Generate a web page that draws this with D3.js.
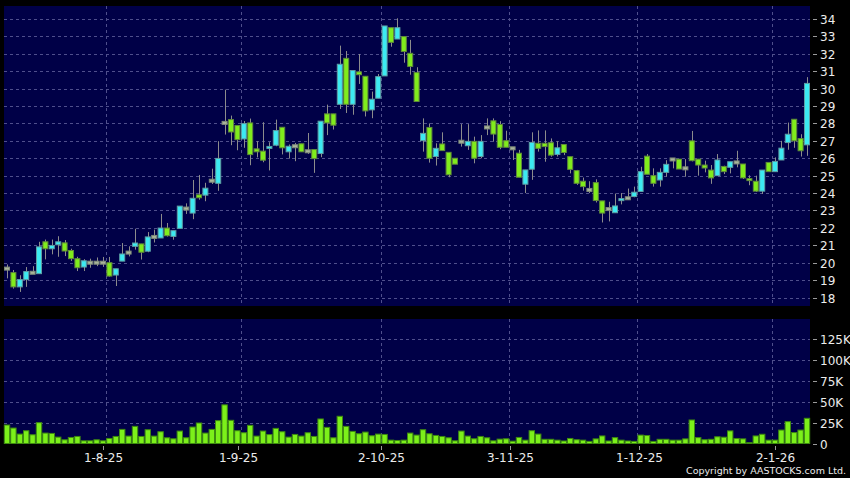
<!DOCTYPE html>
<html><head><meta charset="utf-8">
<script src="https://cdn.jsdelivr.net/npm/d3@7"></script>
<style>html,body{margin:0;padding:0;background:#000;}svg{display:block}</style>
</head><body><svg id="c" width="850" height="478"></svg>
<script>
// ---------------- DATA ----------------
const dates = [
"2025-07-10","2025-07-11","2025-07-14","2025-07-15","2025-07-16","2025-07-17","2025-07-18","2025-07-21","2025-07-22","2025-07-23","2025-07-24","2025-07-25","2025-07-28","2025-07-29","2025-07-30","2025-07-31",
"2025-08-01","2025-08-04","2025-08-05","2025-08-06","2025-08-07","2025-08-08","2025-08-11","2025-08-12","2025-08-13","2025-08-14","2025-08-15","2025-08-18","2025-08-19","2025-08-20","2025-08-21","2025-08-22","2025-08-25","2025-08-26","2025-08-27","2025-08-28","2025-08-29",
"2025-09-01","2025-09-02","2025-09-03","2025-09-04","2025-09-05","2025-09-08","2025-09-09","2025-09-10","2025-09-11","2025-09-12","2025-09-15","2025-09-16","2025-09-17","2025-09-18","2025-09-19","2025-09-22","2025-09-23","2025-09-24","2025-09-25","2025-09-26","2025-09-29","2025-09-30",
"2025-10-02","2025-10-03","2025-10-06","2025-10-08","2025-10-09","2025-10-10","2025-10-13","2025-10-14","2025-10-15","2025-10-16","2025-10-17","2025-10-20","2025-10-21","2025-10-22","2025-10-23","2025-10-24","2025-10-27","2025-10-28","2025-10-30","2025-10-31",
"2025-11-03","2025-11-04","2025-11-05","2025-11-06","2025-11-07","2025-11-10","2025-11-11","2025-11-12","2025-11-13","2025-11-14","2025-11-17","2025-11-18","2025-11-19","2025-11-20","2025-11-21","2025-11-24","2025-11-25","2025-11-26","2025-11-27","2025-11-28",
"2025-12-01","2025-12-02","2025-12-03","2025-12-04","2025-12-05","2025-12-08","2025-12-09","2025-12-10","2025-12-11","2025-12-12","2025-12-15","2025-12-16","2025-12-17","2025-12-18","2025-12-19","2025-12-22","2025-12-23","2025-12-24","2025-12-29","2025-12-30","2025-12-31",
"2026-01-02","2026-01-05","2026-01-06","2026-01-07","2026-01-08","2026-01-09"
];
const open = [
19.66,19.43,18.61,19.03,19.42,19.37,21.20,20.80,21.03,21.14,20.70,20.23,19.75,20.00,20.00,20.00,
20.00,19.29,20.09,20.58,20.94,21.08,20.66,21.48,21.42,21.99,21.51,21.97,23.11,22.85,23.90,23.88,24.71,24.56,28.03,28.22,27.88,
27.11,28.03,26.54,26.41,26.60,26.75,27.78,26.37,26.69,26.83,26.40,26.50,26.27,28.55,28.55,29.10,31.74,29.10,30.96,30.71,28.78,29.45,
30.73,33.50,32.85,32.99,32.03,30.92,27.01,27.77,26.10,26.82,26.34,26.00,26.95,26.72,26.97,26.10,27.77,28.15,27.94,27.01,
26.57,26.29,24.51,25.37,26.86,26.86,26.89,26.22,26.79,26.09,25.29,24.68,24.18,24.60,23.55,23.08,22.87,23.57,23.70,23.80,
24.09,26.12,25.00,24.75,25.19,25.93,25.95,25.42,27.00,25.95,25.61,25.32,25.00,25.53,25.48,25.76,25.67,24.83,24.68,24.11,25.76,
25.23,25.90,26.90,28.24,27.13,26.77
];
const high = [
19.90,19.58,19.28,19.75,19.80,21.20,21.33,21.33,21.52,21.30,20.80,20.34,20.20,20.23,20.30,20.33,
20.33,19.65,21.13,20.94,21.95,21.08,21.76,21.90,22.80,22.28,21.84,23.25,23.41,24.75,25.04,24.59,25.40,26.98,29.94,28.45,27.88,
28.14,28.28,26.98,28.07,26.92,28.22,27.78,26.79,26.88,26.83,27.45,26.50,28.13,29.08,28.55,32.47,32.16,31.04,31.99,30.71,29.83,30.84,
33.60,33.50,34.04,32.99,32.80,31.23,28.29,28.00,26.86,27.49,26.34,26.00,27.96,27.96,27.24,27.33,28.29,28.29,28.13,27.58,
26.63,26.48,25.33,27.49,27.60,27.60,27.14,26.98,26.79,26.09,25.33,24.89,24.68,24.79,23.55,23.50,23.97,24.00,24.26,24.37,
25.51,26.24,25.42,25.42,25.89,25.99,25.95,25.95,27.57,25.95,25.86,25.61,26.24,25.57,25.80,26.43,25.67,25.02,25.00,25.32,25.76,
26.05,27.00,28.05,28.24,27.38,30.66
];
const low = [
19.10,18.51,18.32,18.61,19.40,19.37,20.19,20.48,20.34,20.38,20.10,19.52,19.52,19.71,19.80,19.76,
19.20,18.66,20.09,20.36,20.75,20.18,20.60,21.16,21.42,21.50,21.32,21.97,22.80,22.50,23.62,23.53,24.52,24.13,27.36,26.75,26.46,
26.60,25.60,26.05,25.77,25.30,26.69,26.22,25.98,25.83,26.37,26.25,25.16,26.06,27.33,27.65,28.83,28.60,28.50,30.27,28.40,28.30,29.45,
30.73,32.41,32.85,31.49,30.80,29.26,26.38,25.75,25.58,26.44,24.91,25.66,26.67,26.48,25.71,26.00,27.33,26.95,26.52,26.63,
25.90,24.91,24.00,24.76,26.38,25.80,26.09,26.10,26.18,25.13,24.47,24.14,24.00,23.46,22.31,22.37,22.87,23.35,23.60,23.76,
24.09,25.08,24.37,24.37,24.94,25.42,25.38,24.94,25.82,25.00,25.19,24.53,25.00,25.09,25.13,25.48,24.81,24.45,24.07,23.95,25.23,
25.23,25.90,26.49,26.60,26.10,26.14
];
const close = [
19.66,18.61,19.03,19.49,19.42,20.91,20.80,20.99,21.20,20.67,20.23,19.71,20.11,20.00,20.00,20.00,
19.23,19.65,20.50,20.58,21.13,20.60,21.48,21.48,21.99,21.55,21.84,23.25,23.11,23.70,23.73,24.28,24.71,25.99,28.03,27.51,27.07,
27.99,26.21,26.37,25.89,26.68,27.59,26.60,26.69,26.69,26.37,26.40,25.98,28.13,28.03,27.90,31.40,29.10,31.04,30.80,28.72,29.39,30.69,
33.60,32.66,33.50,32.13,31.27,29.26,27.43,26.00,26.57,26.44,25.05,25.66,26.95,26.97,26.00,26.97,27.77,27.39,26.63,26.63,
26.57,24.91,25.33,26.91,26.57,26.67,26.18,26.60,26.33,25.36,24.56,24.37,24.18,23.57,22.85,23.08,23.26,23.68,23.70,24.05,
25.23,25.08,24.56,25.19,25.65,25.93,25.38,25.42,25.86,25.61,25.44,24.87,25.90,25.23,25.80,25.76,24.87,24.73,24.11,25.32,25.23,
25.82,26.58,27.38,27.00,26.43,30.30
];
const volume = [
22000,18400,11200,15200,10400,24800,12400,12000,7600,4400,7200,8400,3200,3200,4400,3200,
6000,8400,16800,8800,20400,8400,16400,8800,14000,6800,5600,14800,6800,19600,24400,12400,16800,27200,46000,27600,15200,
12800,21600,8800,14800,10600,18000,14000,7600,10800,8800,12800,8400,29200,19200,6800,32400,20400,14400,11600,13600,9200,11200,
10800,4000,3600,4000,12400,10000,16400,11600,9600,8400,6800,3200,14800,8800,5600,8400,6800,3200,5200,5600,
2800,7200,4000,15200,11200,5000,5000,4000,3000,6000,4500,4000,2500,5500,9000,3000,7000,4000,3000,2500,
10000,9500,2500,5000,5000,4000,4000,5500,28000,7000,4500,5000,8000,7500,15000,6000,5500,1000,9000,11000,4000,
4000,16000,26000,13000,16000,30000
];
const priceTicks = [18,19,20,21,22,23,24,25,26,27,28,29,30,31,32,33,34];
const volumeTicks = [0,25000,50000,75000,100000,125000];
const volumeTickLabels = ["0","25K","50K","75K","100K","125K"];
const monthTickDates = ["2025-08-01","2025-09-01","2025-10-02","2025-11-03","2025-12-01","2026-01-02"];
const monthTickLabels = ["1-8-25","1-9-25","2-10-25","3-11-25","1-12-25","2-1-26"];
const copyright = "Copyright by AASTOCKS.com Ltd.";

// ---------------- CHART ----------------
const svg = d3.select("#c");
const W = 850, H = 478;
const plotL = 4, plotR = 810;
const pTop = 6, pBot = 306, vTop = 319, vBot = 444;
const FONT = "'DejaVu Sans', Verdana, sans-serif";
const gridColor = "#4f4f8c";

svg.append("rect").attr("width", W).attr("height", H).attr("fill", "#000");

const idx = d3.range(dates.length);
const x = d3.scaleBand().domain(idx).range([3.8, 810.2]).paddingInner(0).paddingOuter(0);
const bw = x.bandwidth();
const cx = i => x(i) + bw / 2;
const xLabel = d3.scaleLinear().domain([0, dates.length - 1]).range([-0.8, 807.6]);
const y = d3.scaleLinear().domain([18, 34]).range([297.5, 19]);
const yv = d3.scaleLinear().domain([0, 125000]).range([443.5, 338.5]);

// panels
svg.append("rect").attr("x", plotL).attr("y", pTop).attr("width", plotR - plotL).attr("height", pBot - pTop).attr("fill", "#000047");
svg.append("rect").attr("x", plotL).attr("y", vTop).attr("width", plotR - plotL).attr("height", vBot - vTop).attr("fill", "#000047");

const monthIdx = monthTickDates.map(d => dates.indexOf(d));

// grid
const g = svg.append("g").attr("stroke", gridColor).attr("stroke-width", 1).attr("stroke-dasharray", "3,3").attr("shape-rendering", "crispEdges");
g.selectAll("line.hp").data(priceTicks).join("line")
  .attr("x1", plotL).attr("x2", plotR).attr("y1", d => Math.round(y(d)) + 0.5).attr("y2", d => Math.round(y(d)) + 0.5);
g.selectAll("line.hv").data(volumeTicks.slice(1)).join("line")
  .attr("x1", plotL).attr("x2", plotR).attr("y1", d => Math.round(yv(d)) + 0.5).attr("y2", d => Math.round(yv(d)) + 0.5);
monthIdx.forEach(i => {
  const xx = Math.round(x(i)) + 0.5;
  g.append("line").attr("x1", xx).attr("x2", xx).attr("y1", pTop).attr("y2", pBot);
  g.append("line").attr("x1", xx).attr("x2", xx).attr("y1", vTop).attr("y2", vBot);
});

// candles
const candles = svg.append("g");
const data = idx.map(i => ({i, o: open[i], h: high[i], l: low[i], c: close[i], v: volume[i]}));
candles.selectAll("line.wick").data(data).join("line")
  .attr("x1", d => Math.round(cx(d.i)) + 0.5).attr("x2", d => Math.round(cx(d.i)) + 0.5)
  .attr("y1", d => y(d.h)).attr("y2", d => y(d.l))
  .attr("stroke", "#8c8c8c").attr("stroke-width", 1);
const bodyW = bw - 1.4;
candles.selectAll("rect.body").data(data).join("rect")
  .attr("x", d => cx(d.i) - bodyW / 2)
  .attr("width", bodyW)
  .attr("y", d => d.o === d.c ? y(d.o) - 1.5 : y(Math.max(d.o, d.c)))
  .attr("height", d => d.o === d.c ? 3 : Math.max(2, Math.abs(y(d.o) - y(d.c))))
  .attr("fill", d => d.o === d.c ? "#a9b49c" : (d.c > d.o ? "#3ceaf2" : "#80ec1c"))
  .attr("stroke", d => d.o === d.c ? "#7e8a78" : (d.c > d.o ? "#5e9ea4" : "#5f8a3a"))
  .attr("stroke-width", 1);

// volume bars
svg.append("g").selectAll("rect").data(data).join("rect")
  .attr("x", d => cx(d.i) - (bw - 1) / 2)
  .attr("width", bw - 1)
  .attr("y", d => yv(d.v))
  .attr("height", d => yv(0) - yv(d.v))
  .attr("fill", "#7cf01a").attr("stroke", "#3e8a10").attr("stroke-width", 1);

// right axes
const ax = svg.append("g").attr("font-family", FONT).attr("font-size", 12).attr("fill", "#ececec");
priceTicks.forEach(t => {
  const yy = Math.round(y(t)) + 0.5;
  ax.append("line").attr("x1", 813).attr("x2", 817).attr("y1", yy).attr("y2", yy).attr("stroke", "#9a9a9a");
  ax.append("text").attr("x", 820).attr("y", yy).attr("dy", "0.36em").text(t);
});
volumeTicks.forEach((t, k) => {
  const yy = Math.round(yv(t)) + 0.5;
  ax.append("line").attr("x1", 813).attr("x2", 817).attr("y1", yy).attr("y2", yy).attr("stroke", "#9a9a9a");
  ax.append("text").attr("x", 820).attr("y", yy).attr("dy", "0.36em").text(volumeTickLabels[k]);
});

// x axis labels
monthIdx.forEach((i, k) => {
  const xx = Math.round(xLabel(i)) + 0.5;
  ax.append("line").attr("x1", xx).attr("x2", xx).attr("y1", 446).attr("y2", 450).attr("stroke", "#9a9a9a");
  ax.append("text").attr("x", xx).attr("y", 461.5).attr("text-anchor", "middle").text(monthTickLabels[k]);
});

ax.append("text").attr("x", 846).attr("y", 474).attr("text-anchor", "end").attr("font-size", 9.5).text(copyright);
</script>
</body></html>
